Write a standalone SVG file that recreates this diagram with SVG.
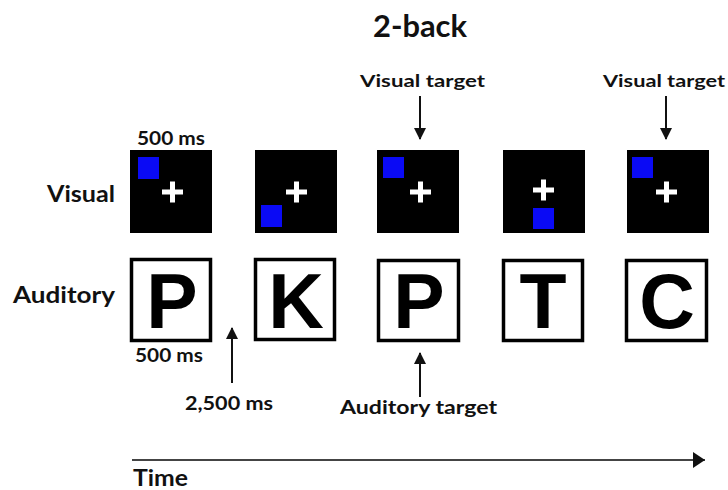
<svg xmlns="http://www.w3.org/2000/svg" width="728" height="490" viewBox="0 0 728 490">
<style>
.t{font-family:Lato,"Open Sans","DejaVu Sans",sans-serif;font-weight:bold;fill:#111;}
.vis{fill:#000;}
.dot{fill:#0a0af5;}
.cr{fill:#fff;}
.aud{fill:#fff;stroke:#000;stroke-width:3.5;}
.let{font-family:"Liberation Sans",Arial,sans-serif;font-weight:bold;font-size:77px;fill:#000;text-anchor:middle;}
.ln{stroke:#111;stroke-width:2;fill:none;}
</style>
<defs>
<marker id="ah" viewBox="0 0 12 12" refX="11" refY="6" markerWidth="12" markerHeight="12" markerUnits="userSpaceOnUse" orient="auto">
<path d="M0,0 L12,6 L0,12 Z" fill="#111"/>
</marker>
</defs>
<text class="t" x="373" y="37" font-size="30" textLength="94" lengthAdjust="spacingAndGlyphs">2-back</text>
<text class="t" x="47" y="202" font-size="22" textLength="68" lengthAdjust="spacingAndGlyphs">Visual</text>
<text class="t" x="13" y="303" font-size="22" textLength="102" lengthAdjust="spacingAndGlyphs">Auditory</text>
<text class="t" x="137" y="145" font-size="18" textLength="68" lengthAdjust="spacingAndGlyphs">500 ms</text>
<text class="t" x="135" y="362" font-size="18" textLength="68" lengthAdjust="spacingAndGlyphs">500 ms</text>
<text class="t" x="360" y="87" font-size="17" textLength="125" lengthAdjust="spacingAndGlyphs">Visual target</text>
<text class="t" x="603" y="87" font-size="17" textLength="122" lengthAdjust="spacingAndGlyphs">Visual target</text>
<text class="t" x="185" y="410" font-size="18" textLength="88" lengthAdjust="spacingAndGlyphs">2,500 ms</text>
<text class="t" x="340" y="414" font-size="18" textLength="157" lengthAdjust="spacingAndGlyphs">Auditory target</text>
<text class="t" x="133" y="486" font-size="22" textLength="55" lengthAdjust="spacingAndGlyphs">Time</text>

<g id="v1"><rect class="vis" x="130" y="150" width="82" height="83"/><rect class="dot" x="138" y="157" width="21" height="22"/><rect class="cr" x="162" y="189.5" width="21" height="5"/><rect class="cr" x="170" y="181.5" width="5" height="21"/></g>
<g id="v2"><rect class="vis" x="255" y="150" width="82" height="83"/><rect class="dot" x="261" y="205" width="21" height="22"/><rect class="cr" x="286" y="189.5" width="21" height="5"/><rect class="cr" x="294" y="181.5" width="5" height="21"/></g>
<g id="v3"><rect class="vis" x="377" y="150" width="82" height="83"/><rect class="dot" x="383" y="157" width="21" height="21"/><rect class="cr" x="410" y="189.5" width="21" height="5"/><rect class="cr" x="418" y="181.5" width="5" height="21"/></g>
<g id="v4"><rect class="vis" x="503" y="150" width="82" height="83"/><rect class="dot" x="533" y="208" width="21" height="21"/><rect class="cr" x="533" y="187.5" width="21" height="5"/><rect class="cr" x="541" y="179.5" width="5" height="21"/></g>
<g id="v5"><rect class="vis" x="627" y="150" width="82" height="83"/><rect class="dot" x="632" y="157" width="21" height="21"/><rect class="cr" x="656" y="189.5" width="21" height="5"/><rect class="cr" x="664" y="181.5" width="5" height="21"/></g>

<g id="a1"><rect class="aud" x="131.5" y="259.5" width="79" height="81"/><text class="let" x="172" y="328">P</text></g>
<g id="a2"><rect class="aud" x="255.5" y="259.5" width="79" height="80"/><text class="let" x="296" y="328">K</text></g>
<g id="a3"><rect class="aud" x="378.5" y="260.5" width="80" height="80"/><text class="let" x="419" y="328">P</text></g>
<g id="a4"><rect class="aud" x="503.5" y="260.5" width="79" height="80"/><text class="let" x="543" y="328">T</text></g>
<g id="a5"><rect class="aud" x="626.5" y="260.5" width="80" height="80"/><text class="let" x="667" y="328">C</text></g>

<g id="connectors">
<line class="ln" x1="420" y1="96" x2="420" y2="139" marker-end="url(#ah)"/>
<line class="ln" x1="666" y1="96" x2="666" y2="139" marker-end="url(#ah)"/>
<line class="ln" x1="232" y1="383" x2="232" y2="328" marker-end="url(#ah)"/>
<line class="ln" x1="420" y1="397" x2="420" y2="353" marker-end="url(#ah)"/>
<line x1="132" y1="460" x2="705" y2="460" stroke="#444" stroke-width="2.2" marker-end="url(#ah2)"/>
</g>
<defs>
<marker id="ah2" viewBox="0 0 12 16" refX="12" refY="8" markerWidth="12" markerHeight="16" markerUnits="userSpaceOnUse" orient="auto">
<path d="M0,0 L12,8 L0,16 Z" fill="#111"/>
</marker>
</defs>
</svg>
